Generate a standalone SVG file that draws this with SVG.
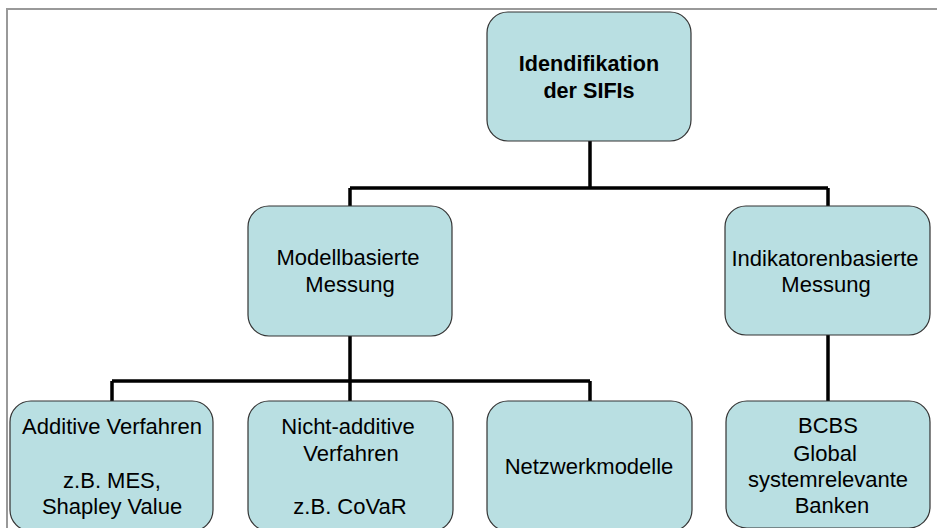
<svg xmlns="http://www.w3.org/2000/svg" width="937" height="528" viewBox="0 0 937 528">
<style>
.box{fill:#B9DFE2;stroke:#333;stroke-width:1.2}
.t{font-family:"Liberation Sans",Arial,sans-serif;font-size:22px;fill:#000;text-anchor:middle}
.b{font-weight:bold;font-size:21.6px}
.c{fill:none;stroke:#000;stroke-width:3.5}
</style>
<rect x="0" y="0" width="937" height="528" fill="#fff"/>
<path d="M7,540 V9 H950" fill="none" stroke="#999" stroke-width="2"/>
<g id="connectors">
<path class="c" d="M590,141 V188 M350,188 H828 M350,188 V206 M828,188 V206"/>
<path class="c" d="M350,336 V381 M112,381 H590 M112,381 V401 M350,381 V401 M590,381 V401"/>
<path class="c" d="M828,335 V401"/>
</g>
<g id="n_root">
<rect class="box" x="487" y="12" width="204" height="129" rx="21"/>
<text class="t b" x="589" y="71">Idendifikation</text>
<text class="t b" x="589" y="98">der SIFIs</text>
</g>
<g id="n_modell">
<rect class="box" x="248" y="206" width="204" height="130" rx="21"/>
<text class="t" x="348" y="265">Modellbasierte</text>
<text class="t" x="350" y="292">Messung</text>
</g>
<g id="n_indikator">
<rect class="box" x="725" y="206" width="205" height="129" rx="21"/>
<text class="t" x="825" y="266">Indikatorenbasierte</text>
<text class="t" x="826" y="292">Messung</text>
</g>
<g id="n_additiv">
<rect class="box" x="10" y="401" width="203" height="130" rx="21"/>
<text class="t" x="112" y="434">Additive Verfahren</text>
<text class="t" x="112" y="488">z.B. MES,</text>
<text class="t" x="112" y="514">Shapley Value</text>
</g>
<g id="n_nichtadditiv">
<rect class="box" x="248" y="401" width="205" height="130" rx="21"/>
<text class="t" x="348" y="434">Nicht-additive</text>
<text class="t" x="351" y="461">Verfahren</text>
<text class="t" x="350" y="514">z.B. CoVaR</text>
</g>
<g id="n_netzwerk">
<rect class="box" x="487" y="401" width="205" height="130" rx="21"/>
<text class="t" x="589" y="474">Netzwerkmodelle</text>
</g>
<g id="n_bcbs">
<rect class="box" x="726" y="401" width="204" height="127" rx="21"/>
<text class="t" x="828" y="433">BCBS</text>
<text class="t" x="825" y="461">Global</text>
<text class="t" x="828" y="487">systemrelevante</text>
<text class="t" x="832" y="513">Banken</text>
</g>
</svg>
